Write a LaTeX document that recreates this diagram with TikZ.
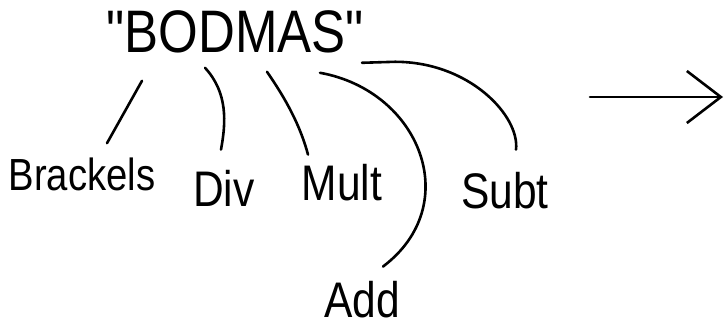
\documentclass[tikz,border=0pt]{standalone}
\usepackage{fontspec}
\usepackage{tikz}
\usetikzlibrary{arrows.meta}
\newfontfamily\handfont[FakeStretch=0.85]{Liberation Sans}

\begin{document}
\begin{tikzpicture}[
        x=1pt, y=-1pt,
        word/.style={inner sep=1pt, anchor=base, font=\handfont\fontsize{50}{50}\selectfont},
        title/.style={word, font=\handfont\fontsize{60}{60}\selectfont},
        stroke/.style={line width=2.6pt, line cap=round}
        ]
        \useasboundingbox (0,0) rectangle (728,327);
        \node[title] (bodmas) at (235,52) {"BODMAS"};
        \node[word, font=\handfont\fontsize{45}{45}\selectfont] (brackels) at (82,190) {Brackels};
        \node[word] (div) at (224,206) {Div};
        \node[word] (mult) at (342,200) {Mult};
        \node[word] (subt) at (505,208) {Subt};
        \node[word] (add) at (362,317) {Add};

        \draw[stroke] ([shift={(-93,27)}]bodmas.south) -- ([shift={(25,-13)}]brackels.north);
        \draw[stroke] ([shift={(-30,14)}]bodmas.south) .. controls ++(23,25) and ++(5,-27) .. ([shift={(-3,-19)}]div.north);
        \draw[stroke] ([shift={(32,18)}]bodmas.south) .. controls ++(18,26) and ++(-8,-30) .. ([shift={(-34,-8)}]mult.north);
        \draw[stroke] ([shift={(85,19)}]bodmas.south) .. controls ++(100,18) and ++(82,-62) .. ([shift={(21,-13)}]add.north);
        \draw[stroke] ([shift={(127,9)}]bodmas.south) -- ++(33,-1) .. controls ++(75,0) and ++(4,-33) .. ([shift={(11,-21)}]subt.north);

        \coordinate (arrfrom) at (590,97);
        \coordinate (arrto) at (723,97);
        \draw[stroke, -{Straight Barb[length=34pt, width=52pt]}] (arrfrom) -- (arrto);
\end{tikzpicture}
\end{document}
